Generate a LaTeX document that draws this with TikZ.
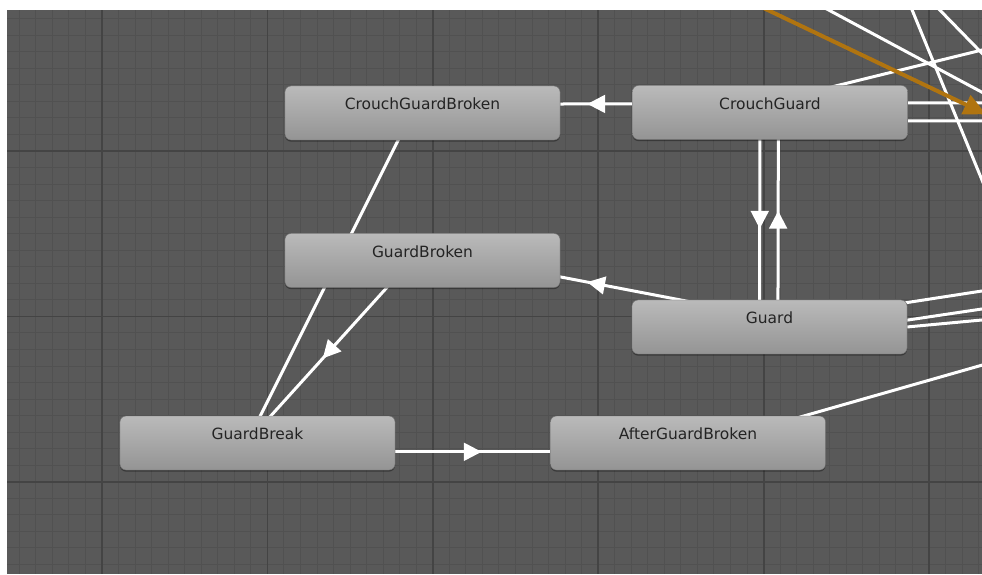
\documentclass[tikz,border=0pt]{standalone}
\usepackage{fontspec}
\setmainfont{DejaVu Sans}
\usetikzlibrary{decorations.markings,shadows}
\definecolor{canvas}{RGB}{89,89,89}
\definecolor{minorline}{RGB}{81,81,81}
\definecolor{majorline}{RGB}{68,68,68}
\definecolor{nodetop}{RGB}{186,186,186}
\definecolor{nodebot}{RGB}{148,148,148}
\definecolor{nodeedge}{RGB}{110,110,110}
\definecolor{nodetext}{RGB}{35,35,35}
\definecolor{selected}{RGB}{176,116,16}
\pgfdeclarelayer{grid}
\pgfdeclarelayer{wires}
\pgfsetlayers{grid,wires,main}

\begin{document}
\begin{tikzpicture}[x=0.025cm,y=-0.025cm,
        statebox/.style={rectangle,rounded corners=0.15cm,minimum width=6.875cm,minimum height=1.35cm,
            inner sep=0pt,top color=nodetop,bottom color=nodebot,draw=nodeedge,line width=0.3pt,
            text=nodetext,font=\fontsize{11}{13}\selectfont,text height=0.25cm,text depth=0.425cm,
            drop shadow={shadow xshift=0pt,shadow yshift=-0.04cm,opacity=0.35,fill=black}},
        trans/.style={color=#1,line width=0.075cm,postaction={decorate},
            decoration={markings,mark=at position 0.5 with {\fill (0.22cm,0) -- (-0.22cm,0.23cm) -- (-0.22cm,-0.23cm) -- cycle;}}},
        trans/.default=white,
        seltrans/.style={color=selected,line width=0.1cm,postaction={decorate},
            decoration={markings,mark=at position 0.5 with {\fill (0.3cm,0) -- (-0.25cm,0.27cm) -- (-0.25cm,-0.27cm) -- cycle;}}},
        wire/.style={white,line width=0.075cm},
        minorgrid/.style={minorline,line width=0.025cm},
        majorgrid/.style={majorline,line width=0.045cm}]
            \useasboundingbox (0,0) rectangle (982,574);
            \node[statebox] (cgb) at (422.5,113) {CrouchGuardBroken};
            \node[statebox] (cg) at (770,112.5) {CrouchGuard};
            \node[statebox] (gb) at (422.5,260.5) {GuardBroken};
            \node[statebox] (g) at (769.5,327) {Guard};
            \node[statebox] (gbk) at (257.5,443) {GuardBreak};
            \node[statebox] (agb) at (688,443) {AfterGuardBroken};
            \coordinate (cgout1) at (1000,103);
            \coordinate (cgout2) at (1000,121);
            \coordinate (cgout3) at (1000,45.6);
            \coordinate (gout1) at (1000,288.2);
            \coordinate (gout2) at (1000,306.3);
            \coordinate (gout3) at (1000,318.3);
            \coordinate (agbout) at (1000,360);
            \coordinate (topa) at (810,0);
            \coordinate (righta) at (1000,101.9);
            \coordinate (topb) at (908,0);
            \coordinate (rightb) at (990,199.5);
            \coordinate (topc) at (930,0);
            \coordinate (rightc) at (1000,71.7);
            \coordinate (selin) at (707,-19);
            \coordinate (selout) at (1243,237);
            \begin{pgfonlayer}{grid}
                \fill[canvas] (7,10) rectangle (982,574);
                \foreach \k in {-5,...,53} \draw[minorgrid] ({102+16.54*\k},10) -- ({102+16.54*\k},574);
                \foreach \k in {-8,...,25} \draw[minorgrid] (7,{151+16.54*\k}) -- (982,{151+16.54*\k});
                \foreach \k in {0,...,5} \draw[majorgrid] ({102+165.4*\k},10) -- ({102+165.4*\k},574);
                \foreach \k in {0,...,2} \draw[majorgrid] (7,{151+165.4*\k}) -- (982,{151+165.4*\k});
            \end{pgfonlayer}
            \begin{pgfonlayer}{wires}
                \clip (7,10) rectangle (982,574);
                \draw[trans] ([yshift=0.22cm]cg.center) -- ([yshift=0.22cm]cgb.center);
                \draw[trans] ([xshift=-0.25cm]cg.center) -- ([xshift=-0.25cm]g.center);
                \draw[trans] ([xshift=0.21cm]g.center) -- ([xshift=0.21cm]cg.center);
                \draw[trans] ([yshift=0.25cm]g.center) -- ([yshift=0.25cm]gb.center);
                \draw[trans] ([xshift=-0.27cm]cgb.center) -- ([xshift=-0.27cm]gbk.center);
                \draw[trans] ([xshift=-0.28cm]gb.center) -- ([xshift=-0.28cm]gbk.center);
                \draw[trans] ([yshift=-0.22cm]gbk.center) -- ([yshift=-0.22cm]agb.center);
                \draw[wire] ([yshift=0.24cm]cg.center) -- (cgout1);
                \draw[wire] ([yshift=-0.21cm]cg.center) -- (cgout2);
                \draw[wire] ([yshift=0.26cm]cg.center) -- (cgout3);
                \draw[wire] ([yshift=0.08cm]g.center) -- (gout1);
                \draw[wire] ([yshift=-0.34cm]g.center) -- (gout2);
                \draw[wire] ([yshift=-0.32cm]g.center) -- (gout3);
                \draw[wire] ([yshift=-0.15cm]agb.center) -- (agbout);
                \draw[wire] (topa) -- (righta);
                \draw[wire] (topb) -- (rightb);
                \draw[wire] (topc) -- (rightc);
                \draw[seltrans] (selin) -- (selout);
            \end{pgfonlayer}
        \end{tikzpicture}
\end{document}
